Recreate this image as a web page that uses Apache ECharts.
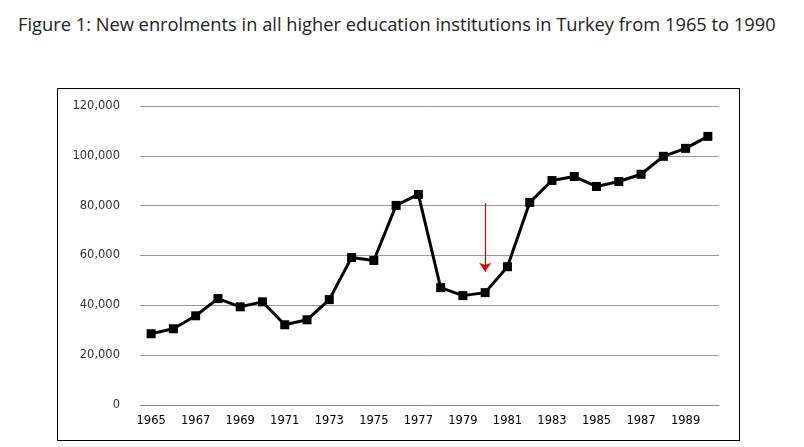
<!DOCTYPE html>
<html><head><meta charset="utf-8">
<script src="https://cdn.jsdelivr.net/npm/echarts@6/dist/echarts.min.js"></script>
<style>
body{margin:0;width:804px;height:447px;background:#fff;position:relative;font-family:"Open Sans",sans-serif;}
#t{position:absolute;left:18px;top:9px;font-size:18.3px;line-height:29px;color:#222;width:775px;}
#box{position:absolute;left:57px;top:88px;width:681px;height:351px;border:1px solid #000;}
#c{width:681px;height:351px;}
</style></head><body>
<div id="t">Figure 1: New enrolments in all higher education institutions in Turkey from 1965 to 1990</div>
<div id="box"><div id="c"></div></div>
<script>
const years=['1965','1966','1967','1968','1969','1970','1971','1972','1973','1974','1975','1976','1977','1978','1979','1980','1981','1982','1983','1984','1985','1986','1987','1988','1989','1990'];
const enrolments=[28600,30600,35800,42700,39400,41400,32200,34200,42300,59200,58000,80100,84500,47100,43900,45100,55500,81300,90100,91700,87700,89700,92600,99800,103000,107800];
const yTicks=[0,20000,40000,60000,80000,100000,120000];
const c=echarts.init(document.getElementById('c'));
c.setOption({
 animation:false,
 grid:{left:82,right:20,top:17,bottom:35},
 xAxis:{type:'category',data:years,boundaryGap:true,
  axisLine:{lineStyle:{color:'#888'}},axisTick:{show:false},
  axisLabel:{interval:1,color:'#000',fontFamily:'DejaVu Sans',fontSize:11.5,margin:10}},
 yAxis:{type:'value',min:0,max:120000,interval:20000,
  axisLine:{show:false},axisTick:{show:false},
  splitLine:{lineStyle:{color:'#999'}},
  axisLabel:{color:'#333',fontFamily:'DejaVu Sans',fontSize:11.5,margin:20,formatter:v=>v.toLocaleString('en-US')}},
 series:[{type:'line',data:enrolments,symbol:'rect',symbolSize:9,
  lineStyle:{color:'#000',width:3},itemStyle:{color:'#000'},
  markLine:{silent:true,symbol:['none','arrow'],symbolSize:9,label:{show:false},
   lineStyle:{color:'#e00000',width:1.2,type:'solid'},
   data:[[{coord:[14.8,81000]},{coord:[14.8,53500]}]]}}]
});
</script></body></html>
